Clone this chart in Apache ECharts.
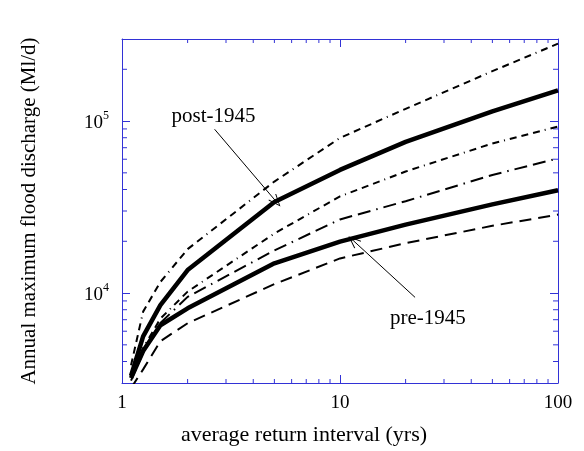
<!DOCTYPE html>
<html>
<head>
<meta charset="utf-8">
<script src="https://cdn.jsdelivr.net/npm/echarts@6/dist/echarts.min.js"></script>
<style>html,body{margin:0;padding:0;background:#fff;}#c{width:584px;height:451px;}</style>
</head>
<body>
<div id="c"></div>
<script>
// Return intervals (yrs)
const returnIntervals = [1.1, 1.25, 1.5, 2, 5, 10, 20, 50, 100];
// Discharge curves (Ml/d)
const postUpper = [3800, 7800, 11600, 18000, 44500, 79800, 117800, 195000, 282000];
const postMean  = [3300, 5600, 8500, 13600, 33800, 52000, 75700, 114000, 151000];
const postLower = [3300, 4800, 7100, 10200, 22200, 36500, 50900, 74100, 93000];
const preUpper  = [3100, 4500, 6700, 9500, 17700, 26800, 34200, 48600, 60700];
const preMean   = [3200, 4600, 6500, 8150, 14900, 19900, 25000, 32800, 39600];
const preLower  = [2800, 3600, 5250, 6680, 11270, 15900, 19500, 24600, 28600];
// Tick values
const xMinorTicks = [2,3,4,5,6,7,8,9,20,30,40,50,60,70,80,90];
const yMinorTicks = [4000,5000,6000,7000,8000,9000,20000,30000,40000,50000,60000,70000,80000,90000,200000];
// Annotations: label, text position, arrow start, arrow tip
const annLabels = ['post-1945', 'pre-1945'];
const annTextPos = [[2.63, 106000], [25.3, 7140]];
const annArrowFrom = [[2.66, 89600], [22.1, 9440]];
const annArrowTo = [[5.1, 34000], [11.5, 20200]];

const X_MIN = 1, X_MAX = 100, Y_MIN = 3000, Y_MAX = 300000;
const BLUE = '#3232d6';
const SERIF = '"Liberation Serif", "Times New Roman", serif';

function pairs(ys) { return returnIntervals.map((x, i) => [x, ys[i]]); }

function powLabel(v) {
  const l = Math.log10(v), e = Math.round(l);
  if (Math.abs(l - e) > 1e-6) return '';
  return e;
}

const chart = echarts.init(document.getElementById('c'), null, {renderer: 'canvas'});

const axisCommon = {
  type: 'log', logBase: 10,
  axisLine: {show: true, lineStyle: {color: BLUE, width: 1}},
  axisTick: {show: true, inside: true, length: 8, lineStyle: {color: BLUE, width: 1}},
  splitLine: {show: false},
  minorTick: {show: false}
};

const curveStyles = [
  {data: postUpper, width: 2, type: [7, 5, 7, 5, 7, 5, 7, 5, 1, 5]},
  {data: postMean, width: 4.5, type: 'solid'},
  {data: postLower, width: 2, type: [7, 5, 7, 5, 7, 5, 1, 5]},
  {data: preUpper, width: 2, type: [13, 6, 13, 6, 1.5, 6]},
  {data: preMean, width: 4.5, type: 'solid'},
  {data: preLower, width: 2, type: [12, 7]}
];

const series = curveStyles.map(c => ({
  type: 'line', data: pairs(c.data), showSymbol: false, symbol: 'none',
  xAxisIndex: 0, yAxisIndex: 0, silent: true, animation: false,
  lineStyle: {color: '#000', width: c.width, type: c.type, cap: 'butt', join: 'round'}
}));

// minor ticks on x (bottom and top)
series.push({
  type: 'custom', xAxisIndex: 0, yAxisIndex: 0, animation: false, silent: true,
  data: xMinorTicks.map(v => [v, Y_MIN]),
  renderItem: function (params, api) {
    const v = api.value(0);
    const b = api.coord([v, Y_MIN]);
    const t = api.coord([v, Y_MAX]);
    const st = {stroke: BLUE, lineWidth: 1};
    return {type: 'group', children: [
      {type: 'line', shape: {x1: b[0], y1: b[1], x2: b[0], y2: b[1] - 4}, style: st},
      {type: 'line', shape: {x1: t[0], y1: t[1], x2: t[0], y2: t[1] + 4}, style: st}
    ]};
  }
});
// minor ticks on y (left and right)
series.push({
  type: 'custom', xAxisIndex: 0, yAxisIndex: 0, animation: false, silent: true,
  data: yMinorTicks.map(v => [X_MIN, v]),
  renderItem: function (params, api) {
    const v = api.value(1);
    const l = api.coord([X_MIN, v]);
    const r = api.coord([X_MAX, v]);
    const st = {stroke: BLUE, lineWidth: 1};
    return {type: 'group', children: [
      {type: 'line', shape: {x1: l[0], y1: l[1], x2: l[0] + 5, y2: l[1]}, style: st},
      {type: 'line', shape: {x1: r[0], y1: r[1], x2: r[0] - 5, y2: r[1]}, style: st}
    ]};
  }
});
// arrows
series.push({
  type: 'line', data: [], xAxisIndex: 0, yAxisIndex: 0, animation: false, silent: true,
  markLine: {
    silent: true, animation: false,
    symbol: ['none', 'path://M0,0 L6,13 L5,13.6 L0,2.4 L-5,13.6 L-6,13 Z'],
    symbolSize: [10, 13],
    label: {show: false},
    lineStyle: {color: '#000', width: 1, type: 'solid'},
    data: annArrowFrom.map((f, i) => [{coord: f}, {coord: annArrowTo[i]}])
  }
});
// annotation text
series.push({
  type: 'custom', xAxisIndex: 0, yAxisIndex: 0, animation: false, silent: true,
  data: annTextPos.map((p, i) => [p[0], p[1], i]),
  renderItem: function (params, api) {
    const c = api.coord([api.value(0), api.value(1)]);
    return {type: 'text', x: c[0], y: c[1], style: {
      text: annLabels[api.value(2)], fill: '#000', align: 'center', verticalAlign: 'middle',
      font: '21px ' + SERIF
    }};
  }
});

chart.setOption({
  animation: false,
  backgroundColor: '#fff',
  grid: {left: 122, right: 26, top: 39, bottom: 64, containLabel: false},
  xAxis: [
    Object.assign({}, axisCommon, {
      position: 'bottom', min: X_MIN, max: X_MAX,
      name: 'average return interval (yrs)', nameLocation: 'middle', nameGap: 41,
      nameTextStyle: {fontFamily: SERIF, fontSize: 22, color: '#000', padding: [0, 72, 0, 0]},
      axisLabel: {show: true, margin: 11, color: '#000', fontFamily: SERIF, fontSize: 19,
        formatter: v => { const e = powLabel(v); return e === '' ? '' : String(Math.pow(10, e)); }}
    }),
    Object.assign({}, axisCommon, {position: 'top', min: X_MIN, max: X_MAX, axisLabel: {show: false}})
  ],
  yAxis: [
    Object.assign({}, axisCommon, {
      position: 'left', min: Y_MIN, max: Y_MAX,
      name: 'Annual maximum flood discharge (Ml/d)', nameLocation: 'middle', nameGap: 82,
      nameTextStyle: {fontFamily: SERIF, fontSize: 21, color: '#000'},
      axisLabel: {show: true, margin: 13, color: '#000', fontFamily: SERIF,
        formatter: v => { const e = powLabel(v); return e === '' ? '' : '{b|10}{s|' + e + '}'; },
        rich: {
          b: {fontFamily: SERIF, fontSize: 19, color: '#000', verticalAlign: 'bottom', lineHeight: 22},
          s: {fontFamily: SERIF, fontSize: 12, color: '#000', verticalAlign: 'top', lineHeight: 22}
        }}
    }),
    Object.assign({}, axisCommon, {position: 'right', min: Y_MIN, max: Y_MAX, axisLabel: {show: false}})
  ],
  series: series
});
</script>
</body>
</html>
